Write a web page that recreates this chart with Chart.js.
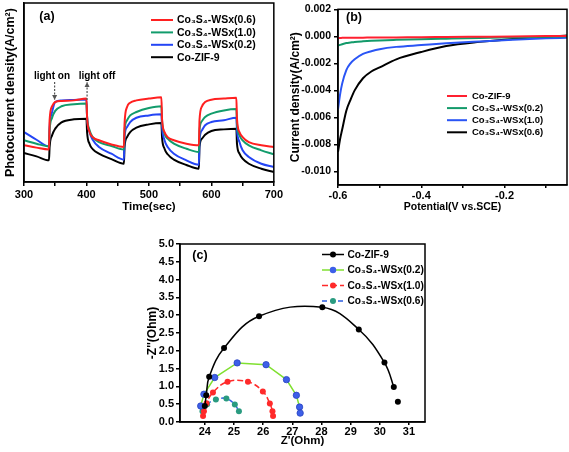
<!DOCTYPE html>
<html>
<head>
<meta charset="utf-8">
<script src="https://cdn.jsdelivr.net/npm/chart.js@4.4.1/dist/chart.umd.min.js"></script>
<style>
  html, body { margin: 0; padding: 0; background: #fff; }
  body { width: 569px; height: 452px; position: relative; overflow: hidden; }
  .panel { position: absolute; }
</style>
</head>
<body>
<div class="panel" style="left:0;top:0;width:285px;height:217px"><canvas id="chartA"></canvas></div>
<div class="panel" style="left:280px;top:0;width:289px;height:217px"><canvas id="chartB"></canvas></div>
<div class="panel" style="left:130px;top:230px;width:310px;height:222px"><canvas id="chartC"></canvas></div>
<script>
const FONT = "'Liberation Sans', Arial, sans-serif";
Chart.defaults.font.family = FONT;
Chart.defaults.font.weight = 'bold';
Chart.defaults.color = '#000';

// ---- (a) photocurrent vs time (arbitrary units, axis has no tick labels)
const timeSec = [300,320,340,341,345,350,360,380,400,401,405,410,420,440,460,461,465,470,480,500,520,521,525,530,540,560,580,581,585,590,600,620,640,641,645,650,660,680,700];
const photoS06 = [20.5,19.2,18.2,34.5,42.3,44.7,45.3,45.6,46.6,36.3,27.9,25.1,23.3,21.0,19.6,32.6,41.9,44.3,45.6,46.6,47.3,35.4,27.9,25.1,23.3,21.4,20.5,34.5,42.3,44.7,46.0,46.6,47.1,35.4,27.9,25.1,22.3,20.5,19.6];
const photoS10 = [23.3,21.4,19.9,28.9,35.9,39.7,42.3,43.4,43.8,36.3,28.9,25.1,22.3,20.1,18.1,28.9,34.5,37.2,39.1,41.3,42.3,34.5,27.0,24.2,21.4,18.6,16.8,28.9,34.1,36.3,38.2,40.0,40.8,32.6,26.1,23.3,20.5,17.7,15.5];
const photoS02 = [27.9,23.6,19.9,30.7,39.1,44.7,45.6,45.8,46.0,36.3,27.9,23.6,19.6,15.8,12.5,25.1,30.7,33.5,35.9,37.2,37.8,30.7,23.3,19.6,15.8,12.1,9.7,23.3,28.9,31.7,33.5,34.5,35.9,28.9,22.3,17.7,14.0,10.2,8.4];
const photoZif = [16.2,14.3,12.1,19.6,26.1,29.8,33.3,35.0,35.4,27.9,21.2,18.4,15.8,12.8,10.2,19.6,25.1,27.9,30.4,32.2,33.0,25.1,18.6,15.5,12.5,9.5,7.4,19.6,24.2,26.4,28.5,29.4,29.8,21.4,15.8,13.0,10.2,7.4,5.6];
const timeTicks = [300,350,400,450,500,550,600,650,700];

// ---- (b) LSV current density vs potential
const potential = [-0.6,-0.595,-0.59,-0.58,-0.57,-0.56,-0.54,-0.52,-0.5,-0.46,-0.4,-0.34,-0.26,-0.18,-0.1,-0.05];
const lsvZif = [-0.00012,-0.00012,-0.00011,-0.00011,-0.0001,-0.0001,-0.0001,-0.00009,-0.00009,-0.00008,-0.00006,-0.00005,-0.00003,-0.00001,0.00002,0.00003];
const lsvS02 = [-0.00068,-0.00063,-0.00058,-0.0005,-0.00046,-0.00042,-0.00037,-0.00033,-0.0003,-0.00026,-0.00021,-0.00017,-0.00012,-0.00008,-0.00004,-0.00001];
const lsvS10 = [-0.0054,-0.0043,-0.0035,-0.0025,-0.002,-0.0017,-0.0013,-0.0011,-0.00095,-0.00078,-0.00065,-0.00052,-0.00038,-0.00025,-0.00015,-0.0001];
const lsvS06 = [-0.00855,-0.0076,-0.0069,-0.0055,-0.0047,-0.004,-0.0031,-0.0026,-0.0023,-0.0017,-0.00116,-0.00072,-0.00041,-0.00019,-0.00005,0.00007];
const potTicks = [-0.6,-0.5,-0.4,-0.3,-0.2,-0.1];
const currentTicks = [0.002,0,-0.002,-0.004,-0.006,-0.008,-0.01];

// ---- (c) Nyquist plots
const zRealZif = [24.0,24.05,24.15,24.66,25.86,28.03,29.28,30.16,30.48,30.62];
const zImagZif = [0.45,0.75,1.27,2.08,2.97,3.22,2.6,1.67,0.98,0.57];
const zRealS02 = [23.86,23.97,24.34,25.11,26.1,26.8,27.14,27.25,27.27];
const zImagS02 = [0.45,0.78,1.25,1.66,1.61,1.19,0.75,0.42,0.25];
const zRealS10 = [23.94,23.97,24.06,24.28,24.78,25.48,25.99,26.23,26.32,26.34];
const zImagS10 = [0.17,0.3,0.53,0.83,1.13,1.13,0.86,0.52,0.3,0.17];
const zRealS06 = [23.92,24.08,24.38,24.74,25.03,25.17];
const zImagS06 = [0.3,0.5,0.63,0.66,0.49,0.3];
const zRealTicks = [24,25,26,27,28,29,30,31];
const zImagTicks = [0,0.5,1,1.5,2,2.5,3,3.5,4,4.5,5];

function series(label, xs, ys, color, extra) {
  return Object.assign({
    label: label,
    data: xs.map((x, i) => ({ x: x, y: ys[i] })),
    borderColor: color,
    backgroundColor: color,
    borderWidth: 2,
    pointRadius: 0,
    cubicInterpolationMode: 'monotone'
  }, extra || {});
}

const framePlugin = {
  id: 'frame',
  afterDraw(chart) {
    const { ctx, chartArea: a } = chart;
    ctx.save();
    ctx.strokeStyle = '#000';
    ctx.lineWidth = 1.5;
    ctx.strokeRect(a.left, a.top, a.right - a.left, a.bottom - a.top);
    ctx.restore();
  }
};

const boxLegend = {
  id: 'boxLegend',
  afterDatasetsDraw(chart, args, o) {
    const ctx = chart.ctx;
    ctx.save();
    ctx.font = 'bold ' + o.size + 'px ' + FONT;
    ctx.textBaseline = 'middle';
    chart.data.datasets.forEach((ds, row) => {
      const y = o.y + row * o.dy;
      ctx.strokeStyle = ds.borderColor;
      ctx.lineWidth = ds.borderWidth;
      ctx.setLineDash(ds.borderDash || []);
      ctx.beginPath();
      ctx.moveTo(o.x, y);
      ctx.lineTo(o.x + o.len, y);
      ctx.stroke();
      ctx.setLineDash([]);
      if (ds.pointRadius > 0) {
        ctx.fillStyle = ds.pointBackgroundColor;
        ctx.beginPath();
        ctx.arc(o.x + o.len / 2, y, ds.pointRadius, 0, Math.PI * 2);
        ctx.fill();
      }
      ctx.fillStyle = '#000';
      ctx.fillText(ds.label, o.x + o.len + o.gap, y + 0.5);
    });
    ctx.restore();
  }
};

const notes = {
  id: 'notes',
  afterDraw(chart, args, o) {
    const ctx = chart.ctx;
    ctx.save();
    ctx.fillStyle = '#000';
    ctx.textAlign = 'center';
    ctx.textBaseline = 'middle';
    (o.texts || []).forEach(t => {
      ctx.font = 'bold ' + t.size + 'px ' + FONT;
      ctx.fillText(t.text, t.x, t.y);
    });
    (o.arrows || []).forEach(a => {
      const x = chart.scales.x.getPixelForValue(a.t);
      ctx.strokeStyle = '#555';
      ctx.fillStyle = '#555';
      ctx.lineWidth = 1.2;
      ctx.setLineDash([2, 1.5]);
      ctx.beginPath();
      ctx.moveTo(x, a.from);
      ctx.lineTo(x, a.to);
      ctx.stroke();
      ctx.setLineDash([]);
      const d = a.to > a.from ? 1 : -1;
      ctx.beginPath();
      ctx.moveTo(x, a.to);
      ctx.lineTo(x - 2.5, a.to - d * 5);
      ctx.lineTo(x + 2.5, a.to - d * 5);
      ctx.closePath();
      ctx.fill();
    });
    ctx.restore();
  }
};

const axisLine = { color: '#000', width: 1.5 };
const tickGrid = { drawOnChartArea: false, tickLength: 4, color: '#000', lineWidth: 1.5 };

// ---------- (a)
new Chart(document.getElementById('chartA'), {
  type: 'line',
  data: {
    datasets: [
      series('Co₃S₄-WSx(0.6)', timeSec, photoS06, '#ff2020'),
      series('Co₃S₄-WSx(1.0)', timeSec, photoS10, '#129c6c'),
      series('Co₃S₄-WSx(0.2)', timeSec, photoS02, '#2445f5'),
      series('Co-ZIF-9', timeSec, photoZif, '#000000')
    ]
  },
  options: {
    responsive: true, maintainAspectRatio: false, animation: false,
    layout: { padding: { left: 0, top: 3, right: 10, bottom: 0 } },
    plugins: {
      legend: { display: false }, tooltip: { enabled: false },
      boxLegend: { x: 151, y: 20, dy: 12.4, len: 22, gap: 4, size: 10.5 },
      notes: {
        texts: [
          { text: '(a)', x: 47, y: 17, size: 12.5 },
          { text: 'light on', x: 52, y: 76, size: 10 },
          { text: 'light off', x: 97, y: 76, size: 10 }
        ],
        arrows: [ { t: 349, from: 82, to: 100 }, { t: 401, from: 100, to: 82 } ]
      }
    },
    scales: {
      x: {
        type: 'linear', min: 300, max: 700,
        afterFit: s => { s.height = 35; },
        afterBuildTicks: s => { s.ticks = timeTicks.map(v => ({ value: v })); },
        ticks: { callback: v => (v % 100 === 0 ? v : ''), font: { size: 11, weight: 'bold' }, padding: 2, maxRotation: 0, autoSkip: false },
        grid: tickGrid, border: axisLine,
        title: { display: true, text: 'Time(sec)', font: { size: 11.5, weight: 'bold' }, padding: { top: 0, bottom: 3 } }
      },
      y: {
        min: 0, max: 100,
        afterFit: s => { s.width = 24; },
        ticks: { display: false }, grid: { display: false }, border: axisLine,
        title: { display: true, text: 'Photocurrent density(A/cm²)', font: { size: 12.5, weight: 'bold' }, padding: { top: 3, bottom: 0 } }
      }
    }
  },
  plugins: [framePlugin, boxLegend, notes]
});

// ---------- (b)
new Chart(document.getElementById('chartB'), {
  type: 'line',
  data: {
    datasets: [
      series('Co-ZIF-9', potential, lsvZif, '#ff2030'),
      series('Co₃S₄-WSx(0.2)', potential, lsvS02, '#139a6a'),
      series('Co₃S₄-WSx(1.0)', potential, lsvS10, '#2a55f5'),
      series('Co₃S₄-WSx(0.6)', potential, lsvS06, '#000000')
    ]
  },
  options: {
    responsive: true, maintainAspectRatio: false, animation: false,
    layout: { padding: { left: 0, top: 5, right: 2, bottom: 0 } },
    plugins: {
      legend: { display: false }, tooltip: { enabled: false },
      boxLegend: { x: 167, y: 96, dy: 12.1, len: 20, gap: 5, size: 9.5 },
      notes: { texts: [ { text: '(b)', x: 74, y: 18, size: 12.5 } ] }
    },
    scales: {
      x: {
        type: 'linear', min: -0.6, max: -0.05,
        afterFit: s => { s.height = 32; },
        afterBuildTicks: s => { s.ticks = potTicks.map(v => ({ value: v })); },
        ticks: { callback: v => (Math.abs(Math.round(v * 10)) % 2 === 0 ? v.toFixed(1) : ''), font: { size: 11, weight: 'bold' }, padding: 1, maxRotation: 0, autoSkip: false },
        grid: Object.assign({}, tickGrid, { tickLength: 3 }), border: axisLine,
        title: { display: true, text: 'Potential(V vs.SCE)', font: { size: 10.5, weight: 'bold' }, padding: { top: 0, bottom: 4 } }
      },
      y: {
        min: -0.011, max: 0.002,
        afterFit: s => { s.width = 58; },
        afterBuildTicks: s => { s.ticks = currentTicks.map(v => ({ value: v })); },
        ticks: { callback: v => v.toFixed(3), font: { size: 10.5, weight: 'bold' }, padding: 3, autoSkip: false },
        grid: tickGrid, border: axisLine,
        title: { display: true, text: 'Current density(A/cm²)', font: { size: 12, weight: 'bold' }, padding: { top: 8, bottom: 0 } }
      }
    }
  },
  plugins: [framePlugin, boxLegend, notes]
});

// ---------- (c)
const lastIdx = zRealZif.length - 2;
new Chart(document.getElementById('chartC'), {
  type: 'line',
  data: {
    datasets: [
      series('Co-ZIF-9', zRealZif, zImagZif, '#000000', {
        borderWidth: 1.5, pointRadius: 3, pointBackgroundColor: '#000', pointBorderWidth: 0,
        cubicInterpolationMode: 'default', tension: 0.4,
        segment: { borderColor: c => (c.p0DataIndex === lastIdx ? 'rgba(0,0,0,0)' : '#000') }
      }),
      series('Co₃S₄-WSx(0.2)', zRealS02, zImagS02, '#80e030', {
        borderWidth: 1.5, pointRadius: 3.2, pointBackgroundColor: '#3d5fe8', pointBorderColor: '#2a44c0', pointBorderWidth: 0.8,
        cubicInterpolationMode: 'default', tension: 0
      }),
      series('Co₃S₄-WSx(1.0)', zRealS10, zImagS10, '#ff2a2a', {
        borderWidth: 1.5, borderDash: [6, 3], pointRadius: 3, pointBackgroundColor: '#ff2a2a', pointBorderWidth: 0,
        cubicInterpolationMode: 'default', tension: 0.4
      }),
      series('Co₃S₄-WSx(0.6)', zRealS06, zImagS06, '#2d5ee0', {
        borderWidth: 1.5, borderDash: [5, 3], pointRadius: 3, pointBackgroundColor: '#2a9b80', pointBorderWidth: 0,
        cubicInterpolationMode: 'default', tension: 0.4
      })
    ]
  },
  options: {
    responsive: true, maintainAspectRatio: false, animation: false,
    layout: { padding: { left: 0, top: 14, right: 15, bottom: 0 } },
    plugins: {
      legend: { display: false }, tooltip: { enabled: false },
      boxLegend: { x: 192, y: 24.5, dy: 15.5, len: 22, gap: 3.5, size: 10.2 },
      notes: { texts: [ { text: '(c)', x: 70, y: 26, size: 12.5 } ] }
    },
    scales: {
      x: {
        type: 'linear', min: 23.15, max: 31.55,
        afterFit: s => { s.height = 30; },
        afterBuildTicks: s => { s.ticks = zRealTicks.map(v => ({ value: v })); },
        ticks: { font: { size: 11, weight: 'bold' }, padding: 0, maxRotation: 0, autoSkip: false },
        grid: Object.assign({}, tickGrid, { tickLength: 3 }), border: axisLine,
        title: { display: true, text: "Z'(Ohm)", font: { size: 11.5, weight: 'bold' }, padding: { top: 0, bottom: 4 } }
      },
      y: {
        min: 0, max: 5,
        afterFit: s => { s.width = 50; },
        afterBuildTicks: s => { s.ticks = zImagTicks.map(v => ({ value: v })); },
        ticks: { callback: v => v.toFixed(1), font: { size: 11, weight: 'bold' }, padding: 2, autoSkip: false },
        grid: tickGrid, border: axisLine,
        title: { display: true, text: "-Z''(Ohm)", font: { size: 12, weight: 'bold' }, padding: { top: 15, bottom: 0 } }
      }
    }
  },
  plugins: [framePlugin, boxLegend, notes]
});
</script>
</body>
</html>
